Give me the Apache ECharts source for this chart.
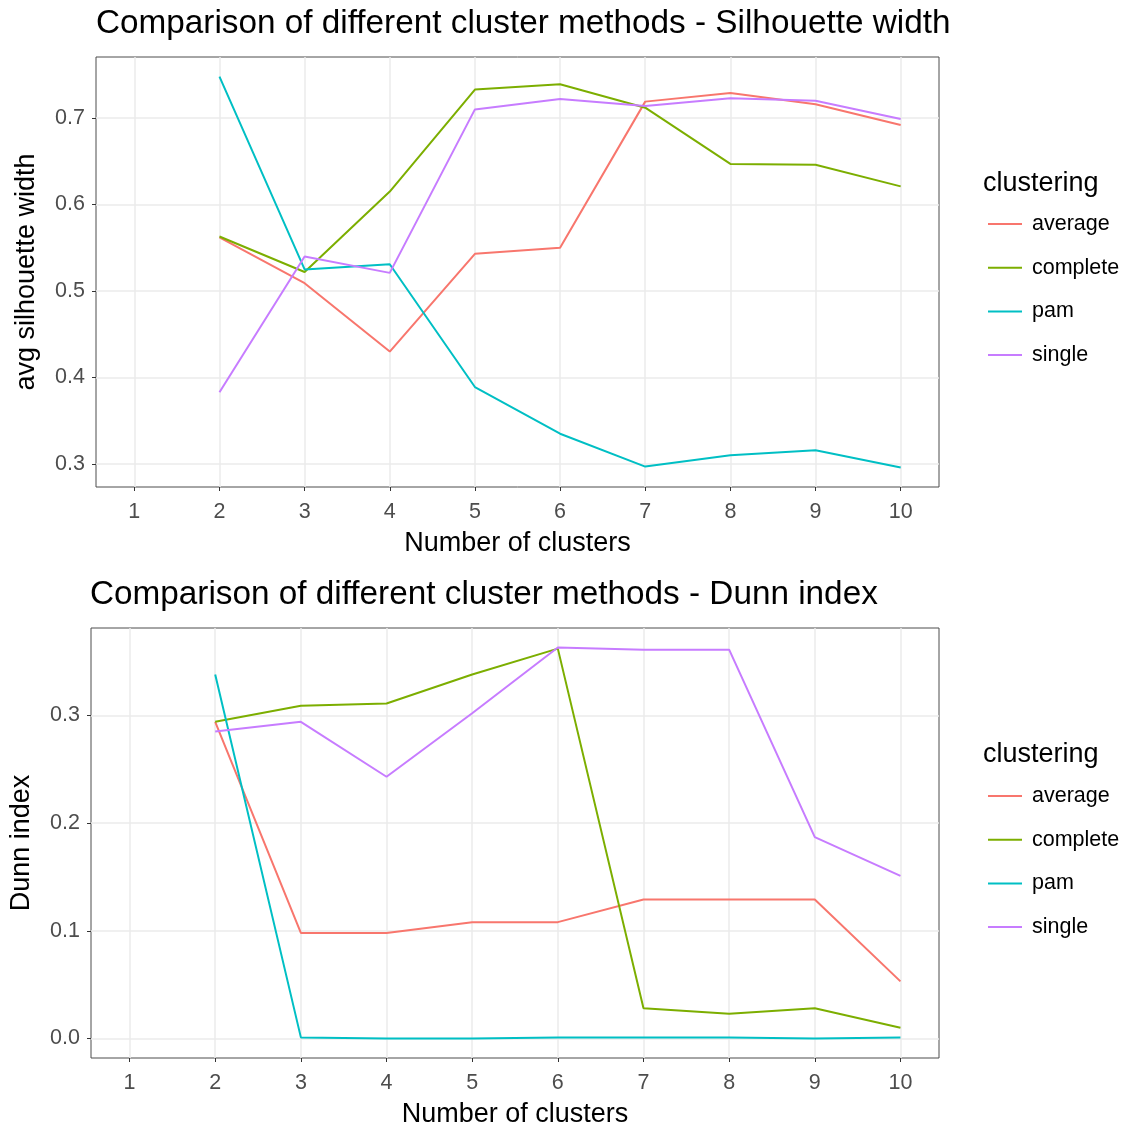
<!DOCTYPE html>
<html>
<head>
<meta charset="utf-8">
<script src="https://cdn.jsdelivr.net/npm/echarts@6/dist/echarts.min.js"></script>
<style>
  html, body { margin: 0; padding: 0; background: #ffffff; }
  #chart { width: 1128px; height: 1126px; }
</style>
</head>
<body>
<div id="chart"></div>
<script>
// Number of clusters evaluated by each method
const clusters = [2, 3, 4, 5, 6, 7, 8, 9, 10];
const xTicks = [1, 2, 3, 4, 5, 6, 7, 8, 9, 10];

const methods = ['average', 'complete', 'pam', 'single'];
const methodColors = ['#F8766D', '#7CAE00', '#00BFC4', '#C77CFF'];

// Average silhouette width per method
const silAverage  = [0.562, 0.509, 0.430, 0.543, 0.550, 0.719, 0.729, 0.716, 0.692];
const silComplete = [0.563, 0.522, 0.615, 0.733, 0.739, 0.712, 0.647, 0.646, 0.621];
const silPam      = [0.748, 0.525, 0.531, 0.389, 0.335, 0.297, 0.310, 0.316, 0.296];
const silSingle   = [0.383, 0.540, 0.521, 0.710, 0.722, 0.714, 0.723, 0.720, 0.699];
const silTicks = [0.3, 0.4, 0.5, 0.6, 0.7];

// Dunn index per method
const dunnAverage  = [0.294, 0.098, 0.098, 0.108, 0.108, 0.129, 0.129, 0.129, 0.053];
const dunnComplete = [0.294, 0.309, 0.311, 0.338, 0.362, 0.028, 0.023, 0.028, 0.010];
const dunnPam      = [0.338, 0.001, 0.000, 0.000, 0.001, 0.001, 0.001, 0.000, 0.001];
const dunnSingle   = [0.285, 0.294, 0.243, 0.302, 0.363, 0.361, 0.361, 0.187, 0.151];
const dunnTicks = [0.0, 0.1, 0.2, 0.3];

const silSeries = [silAverage, silComplete, silPam, silSingle];
const dunnSeries = [dunnAverage, dunnComplete, dunnPam, dunnSingle];

const FONT = '"Liberation Sans", Arial, Helvetica, sans-serif';

// 5% padding on each side of the data range
function expanded(values) {
  const lo = Math.min(...values), hi = Math.max(...values);
  const pad = (hi - lo) * 0.05;
  return [lo - pad, hi + pad];
}
const xRange = expanded(xTicks);
const silRange = expanded(silSeries.flat());
const dunnRange = expanded(dunnSeries.flat());

const panels = [
  { left: 96, top: 57, yName: 'avg silhouette width', ticks: silTicks, range: silRange, data: silSeries },
  { left: 91, top: 628, yName: 'Dunn index', ticks: dunnTicks, range: dunnRange, data: dunnSeries }
];

const grids = panels.map(p => ({
  left: p.left, top: p.top, width: 939 - p.left, height: 430,
  outerBoundsMode: 'none', containLabel: false,
  show: true, borderColor: '#4d4d4d', borderWidth: 1, backgroundColor: '#ffffff'
}));

const xAxes = panels.map((p, i) => ({
  type: 'value', gridIndex: i, min: xRange[0], max: xRange[1],
  name: 'Number of clusters', nameLocation: 'middle', nameGap: 43,
  nameTextStyle: { fontFamily: FONT, fontSize: 27, color: '#000000' },
  axisLine: { show: false, onZero: false },
  axisTick: { show: true, length: 4, customValues: xTicks, lineStyle: { color: '#333333', width: 1 } },
  axisLabel: { customValues: xTicks, margin: 14, fontFamily: FONT, fontSize: 21.5, color: '#4d4d4d' },
  splitLine: { show: true, lineStyle: { color: '#ebebeb', width: 1.5 } }
}));

const yAxes = panels.map((p, i) => ({
  type: 'value', gridIndex: i, min: p.range[0], max: p.range[1],
  name: p.yName, nameLocation: 'middle', nameGap: 56, nameRotate: 90,
  nameTextStyle: { fontFamily: FONT, fontSize: 27, color: '#000000' },
  axisLine: { show: false, onZero: false },
  axisTick: { show: true, length: 4, customValues: p.ticks, lineStyle: { color: '#333333', width: 1 } },
  axisLabel: { customValues: p.ticks, margin: 11, fontFamily: FONT, fontSize: 21.5, color: '#4d4d4d',
               formatter: v => v.toFixed(1) },
  splitLine: { show: true, lineStyle: { color: '#ebebeb', width: 1.5 } }
}));

const series = [];
panels.forEach((p, i) => {
  methods.forEach((m, k) => {
    series.push({
      name: m, type: 'line', xAxisIndex: i, yAxisIndex: i,
      data: clusters.map((c, j) => [c, p.data[k][j]]),
      showSymbol: false, symbol: 'none',
      lineStyle: { color: methodColors[k], width: 2 },
      itemStyle: { color: methodColors[k] },
      z: 3
    });
  });
});

const legendTops = [212, 784];
const legends = legendTops.map(t => ({
  orient: 'vertical', left: 988, top: t, padding: 0,
  data: methods, icon: 'rect', itemWidth: 34, itemHeight: 2, itemGap: 19.7,
  selectedMode: false,
  textStyle: { fontFamily: FONT, fontSize: 21.5, color: '#000000', lineHeight: 24, padding: [0, 0, 0, 5] }
}));

const titles = [
  { text: 'Comparison of different cluster methods - Silhouette width', left: 96, top: 7 },
  { text: 'Comparison of different cluster methods - Dunn index', left: 90, top: 578 },
  { text: 'clustering', left: 983, top: 170, fs: 27 },
  { text: 'clustering', left: 983, top: 741, fs: 27 }
].map(t => ({
  text: t.text, left: t.left, top: t.top, padding: 0,
  textStyle: { fontFamily: FONT, fontSize: t.fs || 33.3, fontWeight: 'normal', color: '#000000' }
}));

const chart = echarts.init(document.getElementById('chart'), null, { renderer: 'canvas' });
chart.setOption({
  animation: false,
  backgroundColor: '#ffffff',
  title: titles,
  legend: legends,
  grid: grids,
  xAxis: xAxes,
  yAxis: yAxes,
  series: series
});
</script>
</body>
</html>
